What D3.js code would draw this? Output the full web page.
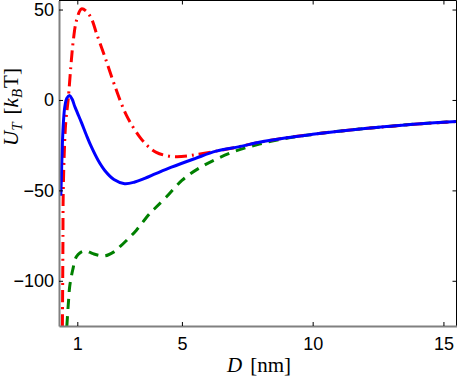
<!DOCTYPE html>
<html>
<head>
<meta charset="utf-8">
<script src="https://cdn.jsdelivr.net/npm/d3@7"></script>
<style>
  body { margin: 0; background: #fff; }
  svg { display: block; }
  .tick text { font-family: 'Liberation Sans', Arial, sans-serif; font-size: 18px; fill: #000; }
  .lbl { font-family: 'Liberation Serif', 'Times New Roman', serif; font-size: 21px; fill: #000; }
</style>
</head>
<body>
<svg width="458" height="379"></svg>
<script>
// distances D [nm] and potentials U_T [k_B T]
const blueD = [0.37, 0.40, 0.43, 0.47, 0.52, 0.60, 0.70, 0.80, 0.90, 1.00, 1.16, 1.35, 1.54, 1.80, 2.05, 2.40, 2.81, 3.20, 3.58, 4.00, 4.60, 5.50, 6.31, 7.20, 8, 9, 10, 11, 12, 13, 14, 15.5];
const blueU = [-53, -38, -24, -12, -4, 1, 2.5, 0.5, -3.5, -7, -12.5, -19.5, -26, -33.5, -39, -44, -46.3, -45.4, -43.4, -40.8, -37.2, -32.4, -28.3, -25.8, -23.3, -20.9, -19, -17.3, -15.8, -14.5, -13.3, -11.9];

const redD = [0.43, 0.45, 0.46, 0.50, 0.56, 0.65, 0.75, 0.84, 0.97, 1.16, 1.35, 1.54, 1.73, 2.05, 2.43, 2.88, 3.39, 3.77, 4.02, 4.40, 4.79, 5.20, 5.55, 6.31, 7.20, 8, 9, 10, 11, 12, 13, 14, 15.5];
const redU = [-125, -80, -53, -30, -12, 0, 18, 32, 44, 50.4, 49, 45, 37, 24, 8, -8.5, -20.5, -26.5, -29, -30.8, -31.4, -31, -30.2, -28.3, -25.8, -23.3, -20.9, -19, -17.3, -15.8, -14.5, -13.3, -11.9];

const greenD = [0.60, 0.66, 0.71, 0.78, 0.84, 0.92, 1.03, 1.16, 1.35, 1.60, 2.05, 2.40, 2.62, 3.00, 3.26, 3.77, 4.02, 4.40, 5.00, 5.68, 6.82, 7.96, 9.1, 10, 11, 12, 13, 14, 15.5];
const greenU = [-125, -112, -103, -97, -93, -88, -85.5, -84, -83.5, -85, -86.2, -84, -81.3, -76, -72, -62.8, -59.2, -53.7, -44.5, -37.5, -29.5, -24.4, -20.9, -19, -17.3, -15.8, -14.5, -13.3, -11.9];

const xTicks = [1, 5, 10, 15];
const yTicks = [-100, -50, 0, 50];

const svg = d3.select('svg');
const L = 59, R = 456.5, T = 0.5, B = 326;

const x = d3.scaleLinear().domain([0.3, 15.5]).range([L, R]);
const y = d3.scaleLinear().domain([-125, 55]).range([B, T]);

svg.append('defs').append('clipPath')
  .attr('id', 'plotArea')
  .append('rect')
  .attr('x', L).attr('y', T)
  .attr('width', R - L).attr('height', B - T);

const line = d3.line()
  .x(d => x(d[0]))
  .y(d => y(d[1]))
  .curve(d3.curveCatmullRom.alpha(0.5));

const series = [
  {D: greenD, U: greenU, color: '#008000', dash: '10,7'},
  {D: redD, U: redU, color: '#ff0000', dash: '12,5,2,5'},
  {D: blueD, U: blueU, color: '#0000ff', dash: null}
];

const plot = svg.append('g').attr('clip-path', 'url(#plotArea)');
series.forEach(s => {
  plot.append('path')
    .datum(s.D.map((d, i) => [d, s.U[i]]))
    .attr('d', line)
    .attr('fill', 'none')
    .attr('stroke', s.color)
    .attr('stroke-width', 3)
    .attr('stroke-dasharray', s.dash);
});

// box: top and right black, left and bottom grey
svg.append('line').attr('x1', L).attr('x2', R).attr('y1', T).attr('y2', T)
  .attr('stroke', '#000').attr('stroke-width', 1);
svg.append('line').attr('x1', R).attr('x2', R).attr('y1', T).attr('y2', B)
  .attr('stroke', '#000').attr('stroke-width', 1);

// mirrored ticks on top and right
svg.append('g').attr('transform', `translate(0,${T})`)
  .call(d3.axisTop(x).tickValues(xTicks).tickSizeInner(-4).tickSizeOuter(0).tickFormat(''))
  .call(g => g.select('.domain').remove())
  .call(g => g.selectAll('.tick line').attr('stroke', '#000'));
svg.append('g').attr('transform', `translate(${R},0)`)
  .call(d3.axisRight(y).tickValues(yTicks).tickSizeInner(-4).tickSizeOuter(0).tickFormat(''))
  .call(g => g.select('.domain').remove())
  .call(g => g.selectAll('.tick line').attr('stroke', '#000'));

const xAxis = svg.append('g').attr('transform', `translate(0,${B})`)
  .call(d3.axisBottom(x).tickValues(xTicks).tickSizeInner(-4).tickSizeOuter(0).tickPadding(11))
  .call(g => g.select('.domain').attr('stroke', '#808080').attr('stroke-width', 2));
xAxis.selectAll('.tick line').attr('stroke', '#000');

const yAxis = svg.append('g').attr('transform', `translate(${L},0)`)
  .call(d3.axisLeft(y).tickValues(yTicks).tickSizeInner(-4).tickSizeOuter(0).tickPadding(5))
  .call(g => g.select('.domain').attr('stroke', '#808080').attr('stroke-width', 2));
yAxis.selectAll('.tick line').attr('stroke', '#000');

// axis labels
const xl = svg.append('text').attr('class', 'lbl')
  .attr('x', 259).attr('y', 372).attr('text-anchor', 'middle');
xl.append('tspan').attr('font-style', 'italic').text('D');
xl.append('tspan').attr('dx', 8).text('[nm]');

const yl = svg.append('text').attr('class', 'lbl')
  .attr('transform', 'translate(18,107) rotate(-90)')
  .attr('text-anchor', 'middle');
yl.append('tspan').attr('font-style', 'italic').text('U');
yl.append('tspan').attr('font-style', 'italic').attr('font-size', 15).attr('dy', 4).text('T');
yl.append('tspan').attr('dx', 8).attr('dy', -4).text('[');
yl.append('tspan').attr('font-style', 'italic').text('k');
yl.append('tspan').attr('font-style', 'italic').attr('font-size', 15).attr('dy', 4).text('B');
yl.append('tspan').attr('dx', 1).attr('dy', -4).text('T]');
</script>
</body>
</html>
